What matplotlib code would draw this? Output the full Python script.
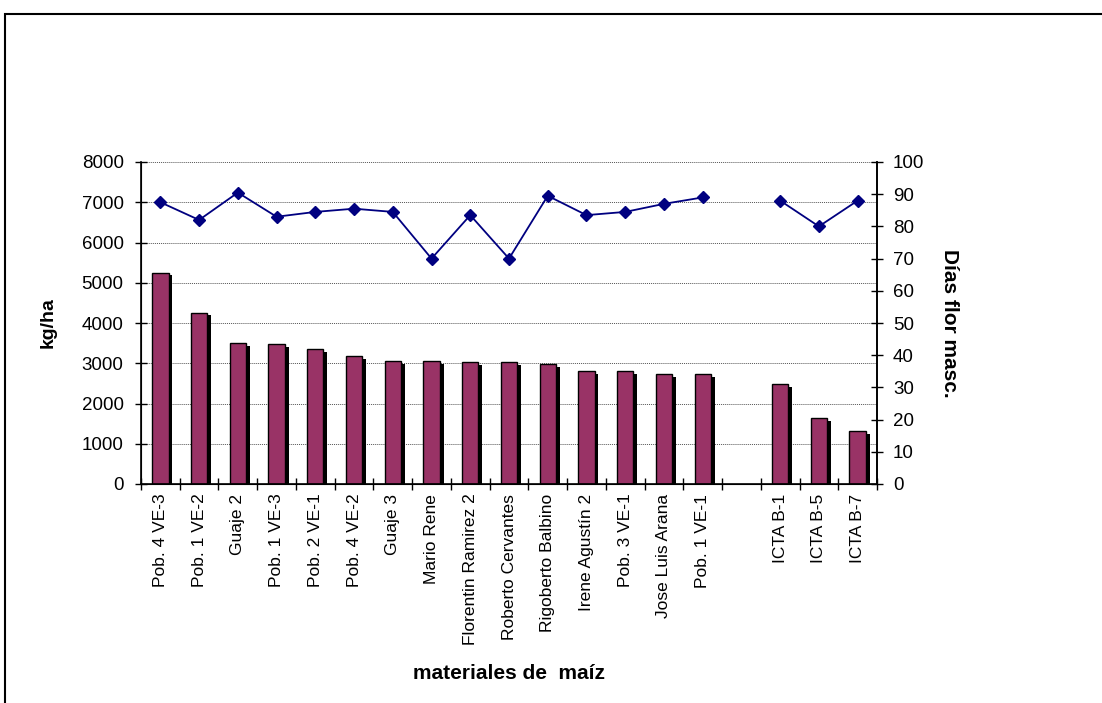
import matplotlib
matplotlib.use("Agg")
import matplotlib.pyplot as plt
import matplotlib.patheffects as pe
from matplotlib.patches import Rectangle
import numpy as np

plt.rcParams['font.family'] = ['Liberation Sans', 'DejaVu Sans']

# data ("" is the empty gap slot)
materiales = ["Pob. 4 VE-3", "Pob. 1 VE-2", "Guaje 2", "Pob. 1 VE-3", "Pob. 2 VE-1",
              "Pob. 4 VE-2", "Guaje 3", "Mario Rene", "Florentin Ramirez 2",
              "Roberto Cervantes", "Rigoberto Balbino", "Irene Agustín 2",
              "Pob. 3 VE-1", "Jose Luis Arana", "Pob. 1 VE-1", "",
              "ICTA B-1", "ICTA B-5", "ICTA B-7"]
rendimiento = [5250, 4260, 3510, 3480, 3355, 3180, 3060, 3060, 3020,
               3020, 2980, 2810, 2810, 2735, 2735, np.nan,
               2480, 1640, 1310]
dias_flor = [87.5, 82, 90.5, 83, 84.5, 85.5, 84.5, 70, 83.5,
             70, 89.5, 83.5, 84.5, 87, 89, np.nan,
             88, 80, 88]

x = np.arange(len(materiales))

fig = plt.figure(figsize=(11.02, 7.03), dpi=100)
ax = fig.add_axes([141/1102, 1 - 484/703, 736/1102, 322/703])

# bars with black drop shadow
ax.bar(x, rendimiento, width=0.42, color="#993366", edgecolor="black", linewidth=1,
       zorder=2, path_effects=[pe.SimplePatchShadow(offset=(2.8, -2.0), shadow_rgbFace="black", alpha=1),
                               pe.Normal()])

ax.set_ylim(0, 8000)
ax.set_yticks(range(0, 8001, 1000))
ax.set_xlim(-0.5, len(materiales) - 0.5)
ax.set_xticks(x)
ax.set_xticklabels(materiales, rotation=90, fontsize=12.5)
ax.set_xticks(np.arange(-0.5, len(materiales), 1), minor=True)
ax.tick_params(axis="x", which="major", length=0, pad=7)
ax.tick_params(axis="x", which="minor", direction="inout", length=8, width=1)
ax.tick_params(axis="y", direction="inout", length=9, width=1, labelsize=13.5, pad=8)
ax.yaxis.grid(True, linestyle=(0, (1, 1)), color="#555555", linewidth=0.7)
ax.set_axisbelow(True)
ax.spines["top"].set_visible(False)
for s in ["left", "bottom", "right"]:
    ax.spines[s].set_linewidth(1.2)

ax.set_ylabel("kg/ha", fontsize=14, fontweight="bold")
ax.yaxis.set_label_coords(-0.114, 0.5)
ax.set_xlabel("materiales de  maíz", fontsize=15, fontweight="bold")
ax.xaxis.set_label_coords(0.5, -0.559)

# days to male flowering on the right axis
ax2 = ax.twinx()
ax2.plot(x, dias_flor, color="#000080", linewidth=1.3, marker="D", markersize=6.5, zorder=3)
ax2.set_ylim(0, 100)
ax2.set_yticks(range(0, 101, 10))
ax2.tick_params(axis="y", direction="inout", length=9, width=1, labelsize=13.5, pad=7)
ax2.spines["top"].set_visible(False)
ax2.spines["right"].set_linewidth(1.2)
ax2.set_ylabel("Días flor masc.", fontsize=15, fontweight="bold", rotation=270, va="center")
ax2.yaxis.set_label_coords(1.099, 0.5)

# outer chart frame (runs off the right and bottom edges)
fig.add_artist(Rectangle((5/1102, -0.1), 1.2, 0.98 + 0.1, transform=fig.transFigure,
                         fill=False, edgecolor="black", linewidth=1.5, clip_on=False))

fig.savefig("out.png", dpi=100)
